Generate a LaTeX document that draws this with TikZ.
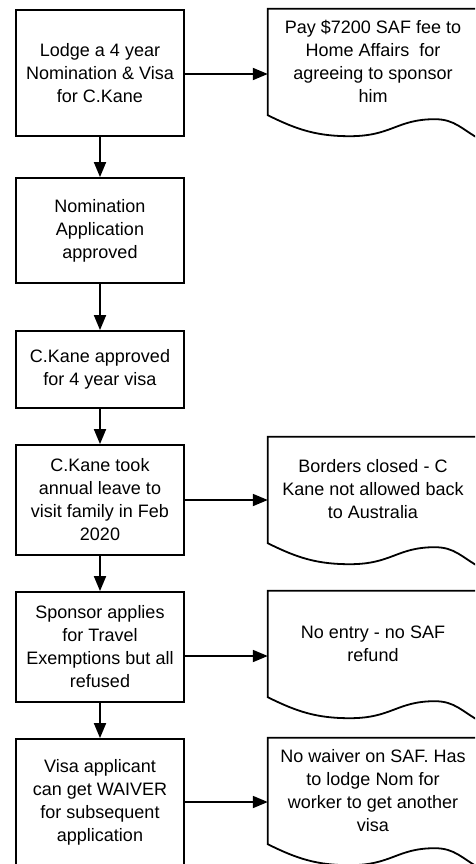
\documentclass[tikz,border=0pt]{standalone}
\usepackage{fontspec}
\setmainfont{Liberation Sans}
\usetikzlibrary{arrows.meta}
\tikzset{
  stepbox/.style={draw=black, line width=1.8pt, rectangle, minimum width=168pt, inner sep=0pt, align=center, font=\fontsize{18}{23}\selectfont},
  docnode/.style={rectangle, minimum width=210pt, minimum height=105pt, inner sep=0pt, align=center, font=\fontsize{18}{23}\selectfont},
  docline/.style={draw=black, line width=1.8pt, line join=miter},
  conn/.style={line width=1.8pt, -{Triangle[length=15pt,width=12pt]}}
}
\begin{document}
\begin{tikzpicture}[x=1pt,y=-1pt]
\useasboundingbox (0,0) rectangle (475,864);
\clip (0,0) rectangle (475,864);
\fill[white] (0,0) rectangle (475,864);

\node[stepbox, minimum height=126pt] (b1) at (100,73) {Lodge a 4 year\\Nomination \& Visa\\for C.Kane};
\node[stepbox, minimum height=105pt] (b2) at (100,230.5) {Nomination\\Application\\approved};
\node[stepbox, minimum height=77pt] (b3) at (100,369.5) {C.Kane approved\\for 4 year visa};
\node[stepbox, minimum height=110pt] (b4) at (100,500) {C.Kane took\\annual leave to\\visit family in Feb\\2020};
\node[stepbox, minimum height=110pt] (b5) at (100,647) {Sponsor applies\\for Travel\\Exemptions but all\\refused};
\node[stepbox, minimum height=126pt] (b6) at (100,802) {Visa applicant\\can get WAIVER\\for subsequent\\application};

\node[docnode] (d1) at (373,61.5) {Pay \$7200 SAF fee to\\Home Affairs\ \ for\\agreeing to sponsor\\him};
\node[docnode] (d2) at (373,489.5) {Borders closed - C\\Kane not allowed back\\to Australia};
\node[docnode] (d3) at (373,643.5) {No entry - no SAF\\refund};
\node[docnode] (d4) at (373,790.5) {No waiver on SAF. Has\\to lodge Nom for\\worker to get another\\visa};

\foreach \d in {d1,d2,d3,d4}{
  \draw[docline] (\d.north east) -- (\d.north west) -- ([yshift=-1pt]\d.south west)
    .. controls +(30,15) and +(-32,0) .. ([shift={(82,22)}]\d.south west)
    .. controls +(42,0) and +(-38,0) .. ([shift={(167,5)}]\d.south west)
    .. controls +(20,0) and +(-18,-10) .. ([shift={(212,25)}]\d.south west)
    -- (\d.north east);
}

\draw[conn] (b1) -- (b2);
\draw[conn] (b2) -- (b3);
\draw[conn] (b3) -- (b4);
\draw[conn] (b4) -- (b5);
\draw[conn] (b5) -- (b6);

\draw[conn] ([yshift=-1pt]b1.east) -- ([yshift=-1pt]b1.east -| d1.west);
\draw[conn] (b4.east) -- (b4.east -| d2.west);
\draw[conn] ([yshift=-9pt]b5.east) -- ([yshift=-9pt]b5.east -| d3.west);
\draw[conn] (b6.east) -- (b6.east -| d4.west);
\end{tikzpicture}
\end{document}
